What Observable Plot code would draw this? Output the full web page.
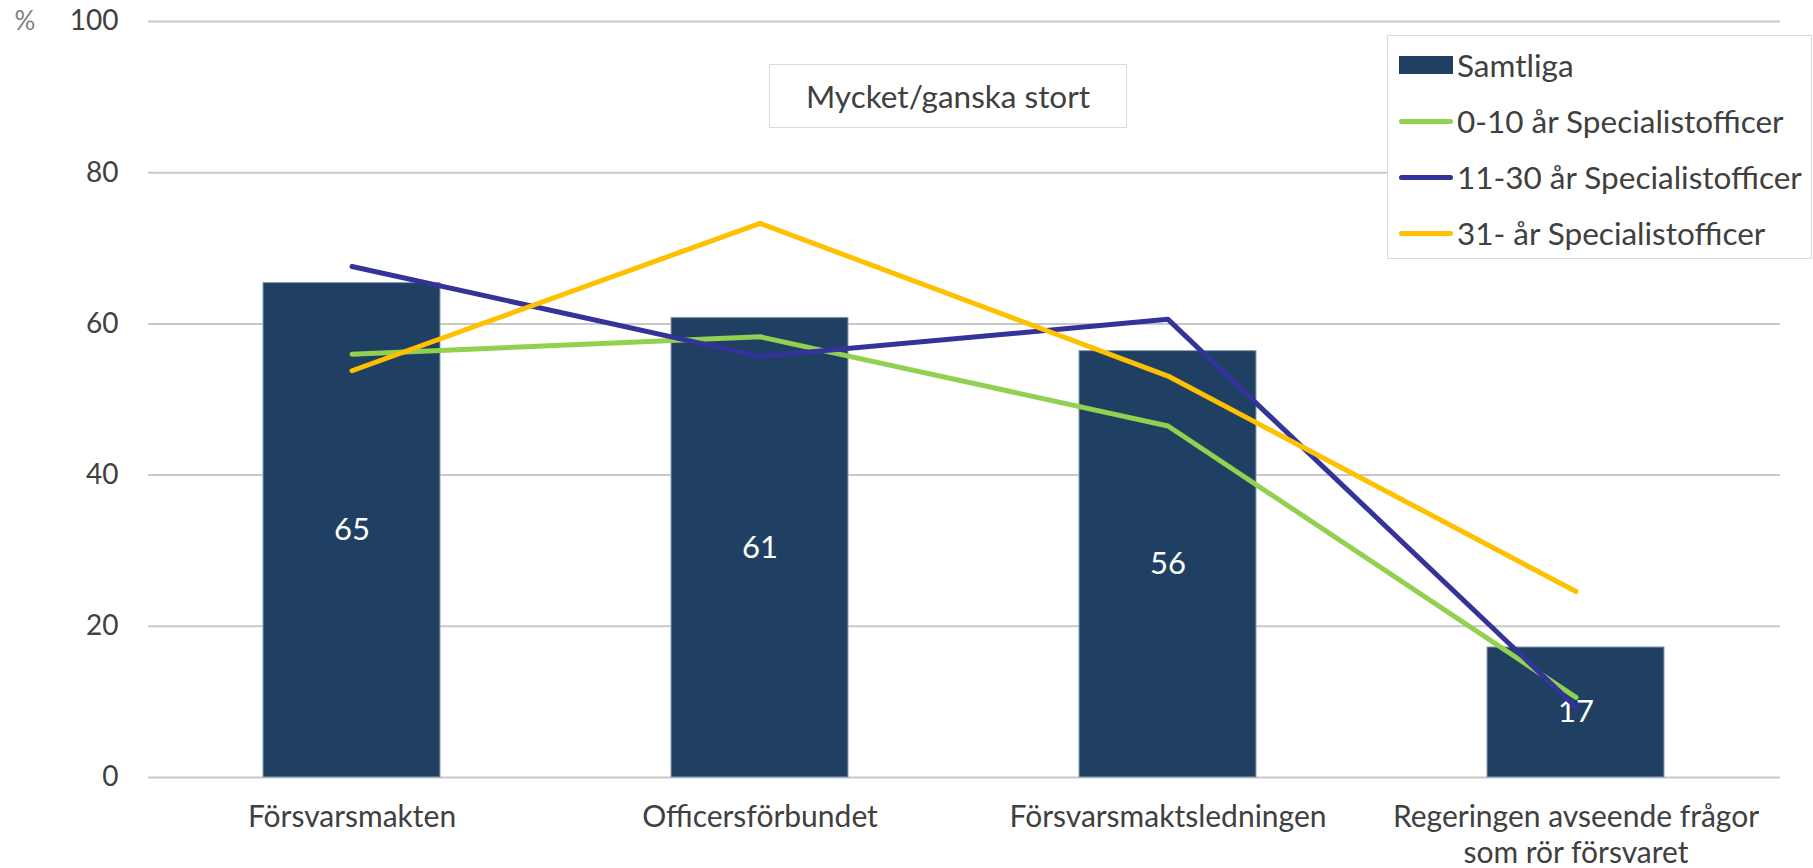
<!DOCTYPE html>
<html>
<head>
<meta charset="utf-8">
<script src="https://cdn.jsdelivr.net/npm/d3@7"></script>
<script src="https://cdn.jsdelivr.net/npm/@observablehq/plot@0.6"></script>
<style>
  html, body { margin: 0; padding: 0; background: #fff; }
  #wrap { position: relative; width: 1813px; height: 868px; font-family: Lato, "Open Sans", sans-serif; color: #404040; }
  #title { position: absolute; left: 769px; top: 64px; width: 356px; height: 62px; border: 1.5px solid #d9d9d9; background: #fff;
           display: flex; align-items: center; justify-content: center; font-size: 31.5px; }
  #legend { position: absolute; left: 1387px; top: 35px; width: 423px; height: 221px; border: 1.5px solid #d9d9d9; background: #fff; padding-top: 1px; box-sizing: content-box; }
  .row { height: 56px; display: flex; align-items: center; font-size: 31.5px; white-space: nowrap; }
  .sw { margin-left: 11px; width: 54px; margin-right: 4px; }
  .sw.bar { height: 18px; }
  .sw.ln { height: 5px; border-radius: 3px; }
</style>
</head>
<body>
<div id="wrap"></div>
<script>
const categories = ["Försvarsmakten", "Officersförbundet", "Försvarsmaktsledningen", "Regeringen avseende frågor som rör försvaret"];
const categoryLabels = ["Försvarsmakten", "Officersförbundet", "Försvarsmaktsledningen", "Regeringen avseende frågor\nsom rör försvaret"];
const samtliga = [65.4, 60.8, 56.4, 17.2];
const specialist0_10 = [56.0, 58.3, 46.5, 10.6];
const specialist11_30 = [67.6, 55.7, 60.6, 9.3];
const specialist31 = [53.8, 73.3, 53.1, 24.6];
const seriesNames = ["Samtliga", "0-10 år Specialistofficer", "11-30 år Specialistofficer", "31- år Specialistofficer"];
const seriesColors = ["#1f4063", "#92d050", "#333399", "#ffc000"];
const yTicks = [0, 20, 40, 60, 80, 100];
const chartTitle = "Mycket/ganska stort";
const unitLabel = "%";

const bars = categories.map((c, i) => ({category: c, value: samtliga[i]}));
const lineSeries = [
  {name: seriesNames[1], color: seriesColors[1], values: specialist0_10},
  {name: seriesNames[2], color: seriesColors[2], values: specialist11_30},
  {name: seriesNames[3], color: seriesColors[3], values: specialist31}
];
const labelOf = new Map(categories.map((c, i) => [c, categoryLabels[i]]));

const font = "Lato, 'Open Sans', sans-serif";
const marks = [
  Plot.gridY(yTicks, {stroke: "#c8c8c8", strokeOpacity: 1, strokeWidth: 2}),
  Plot.axisY(yTicks, {tickSize: 0, tickPadding: 30, fontSize: 28, fill: "#404040", label: null}),
  Plot.axisX({tickSize: 0, tickPadding: 25, fontSize: 30, fill: "#404040", label: null, lineHeight: 1.17,
              tickFormat: d => labelOf.get(d)}),
  Plot.barY(bars, {x: "category", y: "value", fill: seriesColors[0], stroke: "#8c9db0", strokeWidth: 1}),
  Plot.text(bars, {x: "category", y: d => d.value / 2, text: d => String(Math.round(d.value)), fill: "#fff", fontSize: 31}),
  ...lineSeries.map(s => Plot.line(categories.map((c, i) => ({category: c, value: s.values[i]})),
      {x: "category", y: "value", stroke: s.color, strokeWidth: 5, strokeLinecap: "round", strokeLinejoin: "round"})),
  Plot.text([unitLabel], {frameAnchor: "top-left", text: d => d, dx: -134, textAnchor: "start", lineAnchor: "middle", fill: "#808080", fontSize: 26})
];

const chart = Plot.plot({
  width: 1813,
  height: 868,
  marginLeft: 148,
  marginRight: 33,
  marginTop: 21,
  marginBottom: 91,
  style: {fontFamily: font, background: "#fff", color: "#404040", overflow: "visible"},
  x: {domain: categories, paddingInner: 0.566, paddingOuter: 0.283},
  y: {domain: [0, 100]},
  marks
});

const wrap = document.getElementById("wrap");
wrap.appendChild(chart);

const title = document.createElement("div");
title.id = "title";
title.textContent = chartTitle;
wrap.appendChild(title);

const legend = document.createElement("div");
legend.id = "legend";
seriesNames.forEach((name, i) => {
  const row = document.createElement("div");
  row.className = "row";
  const sw = document.createElement("div");
  sw.className = "sw " + (i === 0 ? "bar" : "ln");
  sw.style.background = seriesColors[i];
  const t = document.createElement("span");
  t.textContent = name;
  row.appendChild(sw);
  row.appendChild(t);
  legend.appendChild(row);
});
wrap.appendChild(legend);
</script>
</body>
</html>
